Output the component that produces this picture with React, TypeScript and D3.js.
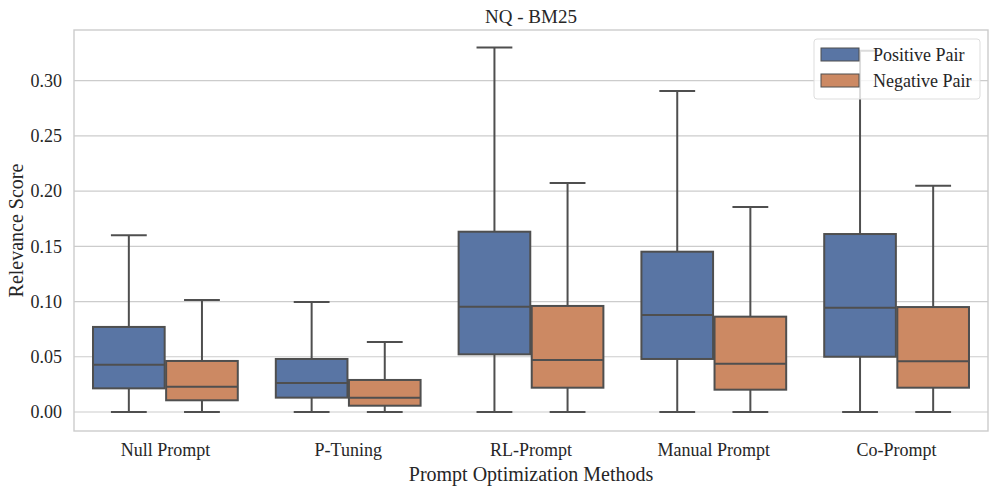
import React, { useRef, useEffect } from "react";
import * as d3 from "d3";

interface IBox {
  method: string;
  pair: string;
  min: number;
  q1: number;
  median: number;
  q3: number;
  max: number;
}

const methods = ["Null Prompt", "P-Tuning", "RL-Prompt", "Manual Prompt", "Co-Prompt"];
const pairs = ["Positive Pair", "Negative Pair"];
const pairColors = ["#5975a4", "#cc8963"];

// [min, q1, median, q3, max] per method
const positiveStats = [
  [0, 0.0214, 0.0428, 0.077, 0.160],
  [0, 0.013, 0.0262, 0.048, 0.0996],
  [0, 0.0522, 0.0953, 0.1632, 0.330],
  [0, 0.048, 0.0878, 0.1451, 0.2906],
  [0, 0.050, 0.0944, 0.1611, 0.327],
];
const negativeStats = [
  [0, 0.0106, 0.0229, 0.0462, 0.1014],
  [0, 0.0057, 0.013, 0.029, 0.0634],
  [0, 0.022, 0.047, 0.096, 0.2073],
  [0, 0.0202, 0.0437, 0.0863, 0.1856],
  [0, 0.022, 0.046, 0.095, 0.2049],
];
const yTicks = [0, 0.05, 0.1, 0.15, 0.2, 0.25, 0.3];

const App: React.FC = () => {
  const ref = useRef<SVGSVGElement>(null);
  const width = 999;
  const height = 488;
  const margin = { top: 30, right: 11, bottom: 57, left: 74 };
  const innerWidth = width - margin.left - margin.right;
  const innerHeight = height - margin.top - margin.bottom;

  useEffect(() => {
    const svg = d3.select(ref.current);
    svg.selectAll("*").remove();
    const font = "'Liberation Serif', 'Times New Roman', serif";

    const data: IBox[] = [];
    [positiveStats, negativeStats].forEach((stats, pi) => {
      stats.forEach((s, mi) => {
        data.push({
          method: methods[mi],
          pair: pairs[pi],
          min: s[0],
          q1: s[1],
          median: s[2],
          q3: s[3],
          max: s[4],
        });
      });
    });

    const xScale = d3.scaleBand<string>().domain(methods).range([0, innerWidth]).padding(0);
    const hueScale = d3
      .scaleBand<string>()
      .domain(pairs)
      .range([xScale.bandwidth() * 0.1, xScale.bandwidth() * 0.9]);
    const yScale = d3.scaleLinear().domain([-0.0172, 0.3458]).range([innerHeight, 0]);
    const color = d3.scaleOrdinal<string, string>().domain(pairs).range(pairColors);

    const g = svg.append("g").attr("transform", `translate(${margin.left}, ${margin.top})`);

    // grid
    g.selectAll(".grid")
      .data(yTicks)
      .enter()
      .append("line")
      .attr("x1", 0)
      .attr("x2", innerWidth)
      .attr("y1", (d) => yScale(d))
      .attr("y2", (d) => yScale(d))
      .attr("stroke", "#cccccc")
      .attr("stroke-width", 1.2);

    // frame
    g.append("rect")
      .attr("x", 0)
      .attr("y", 0)
      .attr("width", innerWidth)
      .attr("height", innerHeight)
      .attr("fill", "none")
      .attr("stroke", "#cccccc")
      .attr("stroke-width", 1.4);

    // y axis
    const yAxis = d3
      .axisLeft(yScale)
      .tickValues(yTicks)
      .tickSize(0)
      .tickPadding(12)
      .tickFormat(d3.format(".2f"));
    const yAxisGroup = g.append("g").call(yAxis);
    yAxisGroup.select(".domain").remove();
    yAxisGroup
      .selectAll(".tick text")
      .attr("font-family", font)
      .attr("font-size", "18px")
      .attr("fill", "#262626");

    // x axis
    const xAxis = d3.axisBottom(xScale).tickSize(0).tickPadding(12);
    const xAxisGroup = g.append("g").attr("transform", `translate(0, ${innerHeight})`).call(xAxis);
    xAxisGroup.select(".domain").remove();
    xAxisGroup
      .selectAll(".tick text")
      .attr("font-family", font)
      .attr("font-size", "18px")
      .attr("fill", "#262626");

    // boxes
    const boxW = hueScale.bandwidth() * 0.98;
    const stroke = "#4f4f4f";
    const boxes = g
      .selectAll(".box")
      .data(data)
      .enter()
      .append("g")
      .attr("class", "box")
      .attr(
        "transform",
        (d) => `translate(${(xScale(d.method) || 0) + (hueScale(d.pair) || 0) + hueScale.bandwidth() / 2}, 0)`
      );

    boxes
      .append("line")
      .attr("x1", 0)
      .attr("x2", 0)
      .attr("y1", (d) => yScale(d.q3))
      .attr("y2", (d) => yScale(d.max))
      .attr("stroke", stroke)
      .attr("stroke-width", 2);
    boxes
      .append("line")
      .attr("x1", 0)
      .attr("x2", 0)
      .attr("y1", (d) => yScale(d.q1))
      .attr("y2", (d) => yScale(d.min))
      .attr("stroke", stroke)
      .attr("stroke-width", 2);
    ["max", "min"].forEach((k) => {
      boxes
        .append("line")
        .attr("x1", -boxW / 4)
        .attr("x2", boxW / 4)
        .attr("y1", (d) => yScale((d as any)[k]))
        .attr("y2", (d) => yScale((d as any)[k]))
        .attr("stroke", stroke)
        .attr("stroke-width", 2);
    });
    boxes
      .append("rect")
      .attr("x", -boxW / 2)
      .attr("width", boxW)
      .attr("y", (d) => yScale(d.q3))
      .attr("height", (d) => yScale(d.q1) - yScale(d.q3))
      .attr("fill", (d) => color(d.pair))
      .attr("stroke", stroke)
      .attr("stroke-width", 2);
    boxes
      .append("line")
      .attr("x1", -boxW / 2)
      .attr("x2", boxW / 2)
      .attr("y1", (d) => yScale(d.median))
      .attr("y2", (d) => yScale(d.median))
      .attr("stroke", stroke)
      .attr("stroke-width", 2);

    // legend
    const legend = g.append("g").attr("transform", `translate(${innerWidth - 174}, 9)`);
    legend
      .append("rect")
      .attr("width", 166)
      .attr("height", 60)
      .attr("rx", 3)
      .attr("fill", "rgba(255,255,255,0.8)")
      .attr("stroke", "#dddddd");
    pairs.forEach((p, i) => {
      legend
        .append("rect")
        .attr("x", 7)
        .attr("y", 9 + i * 26)
        .attr("width", 38)
        .attr("height", 13)
        .attr("fill", color(p))
        .attr("stroke", stroke)
        .attr("stroke-width", 1);
      legend
        .append("text")
        .attr("x", 59)
        .attr("y", 16 + i * 26)
        .attr("dy", "0.35em")
        .attr("font-family", font)
        .attr("font-size", "18px")
        .attr("fill", "#262626")
        .text(p);
    });

    // title and labels
    svg
      .append("text")
      .attr("x", margin.left + innerWidth / 2)
      .attr("y", 16)
      .attr("dy", "0.35em")
      .attr("text-anchor", "middle")
      .attr("font-family", font)
      .attr("font-size", "19px")
      .attr("fill", "#262626")
      .text("NQ - BM25");
    svg
      .append("text")
      .attr("x", margin.left + innerWidth / 2)
      .attr("y", 474)
      .attr("dy", "0.35em")
      .attr("text-anchor", "middle")
      .attr("font-family", font)
      .attr("font-size", "20px")
      .attr("fill", "#262626")
      .text("Prompt Optimization Methods");
    svg
      .append("text")
      .attr("transform", `translate(16, ${margin.top + innerHeight / 2}) rotate(-90)`)
      .attr("dy", "0.35em")
      .attr("text-anchor", "middle")
      .attr("font-family", font)
      .attr("font-size", "20px")
      .attr("fill", "#262626")
      .text("Relevance Score");
  });

  return (
    <svg
      ref={ref}
      width={width}
      height={height}
      style={{ position: "absolute", left: 0, top: 0, background: "#ffffff" }}
    ></svg>
  );
};

export default App;
